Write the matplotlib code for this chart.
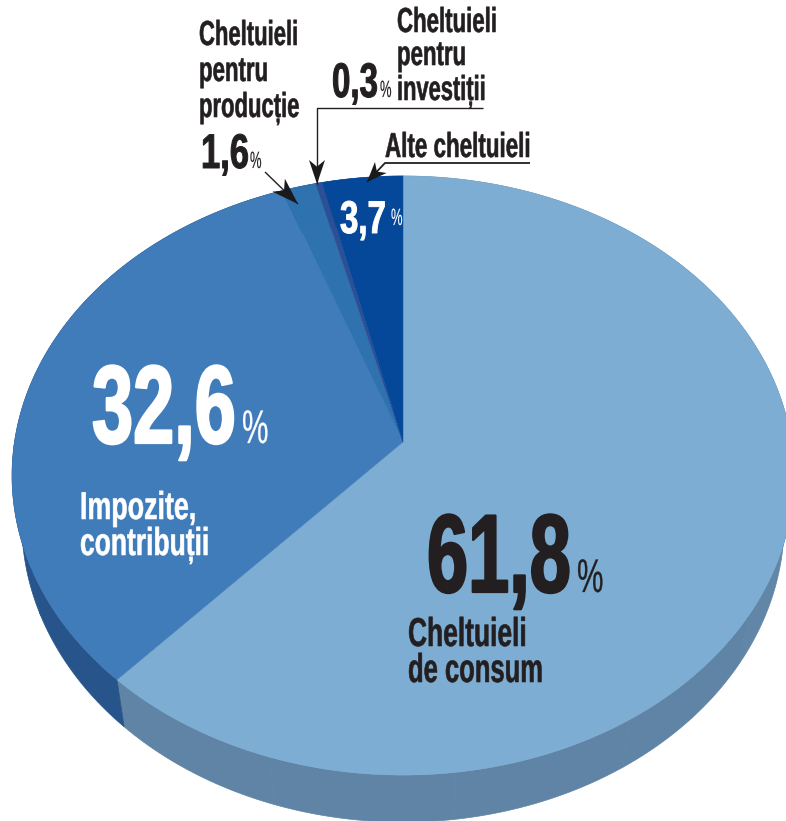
import numpy as np
import matplotlib
matplotlib.use("Agg")
import matplotlib.pyplot as plt
from matplotlib.colors import to_rgb
from matplotlib.patches import Polygon
from matplotlib.patheffects import AbstractPathEffect
from matplotlib.transforms import Affine2D

plt.rcParams['font.family'] = ['Liberation Sans', 'DejaVu Sans']

# date
categories = ['Cheltuieli de consum', 'Impozite, contribuții', 'Cheltuieli pentru producție',
              'Cheltuieli pentru investiții', 'Alte cheltuieli']
values = [61.8, 32.6, 1.6, 0.3, 3.7]
top_colors = ['#7dadd2', '#3f7cb9', '#2e72b0', '#2c4f95', '#05489a']
side_colors = ['#5f84a5', '#27548a', '#27548a', '#27548a', '#27548a']

# geometria discului (perspectiva)
APEX_X, APEX_Y = 403, 442
RX, RY = 388.5, 295.8
PERSP = 0.112
DEPTH = 47
SHRINK = 0.975


def project(theta):
    # unghi masurat in sensul acelor de ceas, de sus
    den = 1 + PERSP * np.cos(theta)
    return (APEX_X + RX * np.sin(theta) / den,
            APEX_Y - RY * np.cos(theta) / den)


class Condensed(AbstractPathEffect):
    # fontul condensat nu exista, asa ca ingustam textul pe orizontala
    # si ingrosam putin conturul
    def __init__(self, sx, stroke):
        super().__init__()
        self.sx = sx
        self.stroke = stroke

    def draw_path(self, renderer, gc, tpath, affine, rgbFace=None):
        gc0 = renderer.new_gc()
        gc0.copy_properties(gc)
        gc0.set_linewidth(self.stroke)
        gc0.set_foreground(rgbFace)
        renderer.draw_path(gc0, tpath, Affine2D().scale(self.sx, 1) + affine, rgbFace)
        gc0.restore()


fig = plt.figure(figsize=(7.86, 8.21), dpi=100)
ax = fig.add_axes([0, 0, 1, 1])
ax.set_xlim(0, 786)
ax.set_ylim(821, 0)
ax.axis('off')

edges = np.cumsum([0] + values) / 100 * 2 * np.pi

# peretele lateral
for i in range(len(values)):
    n = max(int((edges[i + 1] - edges[i]) * 2.5), 1)
    facets = np.linspace(edges[i], edges[i + 1], n + 1)
    for a, b in zip(facets[:-1], facets[1:]):
        t = np.linspace(a, b, 60)
        x, y = project(t)
        shade = np.array(to_rgb(side_colors[i]))
        if i == 0:
            # peretele mare e ceva mai deschis spre dreapta
            shade = shade + 0.07 * max(0, 1 - (a + b) / 2 / 2.2)
        xs = np.r_[x, APEX_X + (x[::-1] - APEX_X) * SHRINK]
        ys = np.r_[y, y[::-1] + DEPTH]
        ax.add_patch(Polygon(np.c_[xs, ys], closed=True, fc=shade, ec=shade, lw=0.5, zorder=1))

# fata de sus
for i in range(len(values)):
    t = np.linspace(edges[i], edges[i + 1], 200)
    x, y = project(t)
    pts = np.c_[np.r_[APEX_X, x], np.r_[APEX_Y, y]]
    ax.add_patch(Polygon(pts, closed=True, fc=top_colors[i], ec=top_colors[i], lw=0.3, zorder=2))

DARK = '#231f20'


def label(x, y, s, size, color=DARK, sx=0.67, weight='bold', stroke=0.4):
    ax.text(x, y, s, fontsize=size, color=color, fontweight=weight, va='baseline', ha='left',
            zorder=5, path_effects=[Condensed(sx, stroke)])


# procente mari
label(427, 592, '61,8', 80, sx=0.665, stroke=1.6)
label(577, 592, '%', 34, sx=0.63, weight='normal', stroke=0.2)
label(92, 443, '32,6', 80, 'white', sx=0.665, stroke=1.6)
label(242, 443, '%', 34, 'white', sx=0.63, weight='normal', stroke=0.2)
label(340, 233, '3,7', 33, 'white', sx=0.72, stroke=0.7)
label(391, 225, '%', 17, 'white', sx=0.55, weight='normal', stroke=0.1)
label(332, 97, '0,3', 35, sx=0.68, stroke=0.7)
label(380, 97, '%', 17, sx=0.55, weight='normal', stroke=0.1)
label(201, 168, '1,6', 35, sx=0.71, stroke=0.7)
label(250, 168, '%', 17, sx=0.55, weight='normal', stroke=0.1)

# etichete
label(408, 646, 'Cheltuieli', 29, sx=0.655)
label(408, 682, 'de consum', 29, sx=0.635)
label(80, 519, 'Impozite,', 28, 'white', sx=0.69)
label(80, 555, 'contribuții', 28, 'white', sx=0.68)
label(199, 45, 'Cheltuieli', 25, sx=0.635)
label(199, 81, 'pentru', 25, sx=0.64)
label(199, 117, 'producție', 25, sx=0.635)
label(397, 32, 'Cheltuieli', 25, sx=0.64)
label(397, 65, 'pentru', 25, sx=0.64)
label(397, 100, 'investiții', 25, sx=0.63)
label(385, 157, 'Alte cheltuieli', 25, sx=0.645)


# sageti
def arrow(xs, ys, lw=1.0, length=24, half=8):
    xs, ys = np.array(xs, float), np.array(ys, float)
    dx, dy = xs[-1] - xs[-2], ys[-1] - ys[-2]
    d = np.hypot(dx, dy)
    dx, dy = dx / d, dy / d
    tip = np.array([xs[-1], ys[-1]])
    back = tip - length * np.array([dx, dy])
    notch = tip - 0.72 * length * np.array([dx, dy])
    perp = half * np.array([-dy, dx])
    ax.plot(xs, ys, color=DARK, lw=lw, solid_capstyle='butt', zorder=6)
    ax.add_patch(Polygon([tip, back + perp, notch, back - perp], closed=True, fc='#1a1a1a', ec='none', zorder=6))


arrow([483, 317, 317], [108, 108, 184])
arrow([530, 385, 367], [163, 163, 182], lw=1.3, length=20)
arrow([265, 298], [172, 204], length=27, half=9)

fig.savefig('out.png', dpi=100)
